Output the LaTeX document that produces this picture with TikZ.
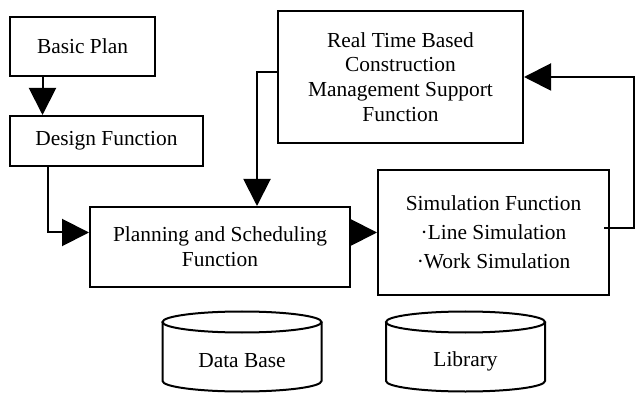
\documentclass[tikz,border=0pt]{standalone}
\usepackage{fontspec}
\setmainfont{Liberation Serif}
\usepackage{tikz}
\usetikzlibrary{arrows.meta,calc}

\begin{document}
\begin{tikzpicture}[x=0.5pt,y=-0.5pt,line width=1pt,
        every node/.style={font=\fontsize{10.7}{12.4}\selectfont, align=center, inner sep=0pt},
        box/.style={draw, line width=1pt},
        flow/.style={-{Triangle[length=13.5pt,width=13.5pt]}, line width=1pt}]
        \useasboundingbox (0,0) rectangle (635,394);
        \node[box, minimum width=72.5pt, minimum height=29.5pt] (basic) at (82.5,46.5) {Basic Plan};
        \node[box, minimum width=96.5pt, minimum height=25pt] (design) at (106.5,141) {Design Function};
        \node[box, minimum width=122.5pt, minimum height=66pt] (rtbased) at (400.5,77)
            {Real Time Based\\Construction\\Management Support\\Function};
        \node[box, minimum width=130pt, minimum height=40pt] (plan) at (220,247)
            {Planning and Scheduling\\Function};
        \node[box, minimum width=115.5pt, minimum height=62.5pt] (sim) at (493.5,232.5)
            {Simulation Function\\[2pt]·Line Simulation\\[2pt]·Work Simulation};
        \begin{scope}[xshift=121pt]
            \draw (-79.5,322) -- (-79.5,381) arc[start angle=180, end angle=0, x radius=79.5, y radius=10.5] -- (79.5,322);
            \draw (0,322) ellipse [x radius=79.5, y radius=10.5];
            \node (database) at (0,361) {Data Base};
        \end{scope}
        \begin{scope}[xshift=232.75pt]
            \draw (-79.5,322) -- (-79.5,381) arc[start angle=180, end angle=0, x radius=79.5, y radius=10.5] -- (79.5,322);
            \draw (0,322) ellipse [x radius=79.5, y radius=10.5];
            \node (library) at (0,361) {Library};
        \end{scope}
        \draw[flow] ([xshift=-20pt]basic.south) -- ([xshift=-20pt]basic.south |- design.north);
        \draw[flow] ([xshift=-29.25pt]design.south) |- (plan.west |- sim.west);
        \draw[flow] ([yshift=2.5pt]rtbased.west) -| ([xshift=18.5pt]plan.north);
        \draw[flow] (plan.east |- sim.west) -- (sim.west);
        \draw[flow] ([xshift=-3pt,yshift=2pt]sim.east) -- ++(30,0) |- (rtbased.east);
    \end{tikzpicture}
\end{document}
